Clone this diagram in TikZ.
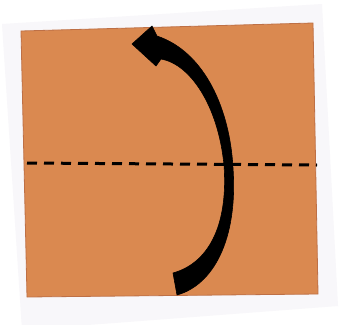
\documentclass[tikz,border=0pt]{standalone}
\definecolor{paper}{RGB}{248,247,250}
\definecolor{origami}{RGB}{218,137,80}
\definecolor{origamiedge}{RGB}{190,112,70}
\begin{document}
\begin{tikzpicture}[x=1pt,y=-1pt,
  sheet/.style={fill=paper,draw=none},
  square/.style={fill=origami,draw=origamiedge,line width=0.8pt},
  crease/.style={line width=3pt,dash pattern=on 10pt off 7pt},
  foldarrow/.style={fill=black,draw=black,line width=0.6pt,line join=round}]
\useasboundingbox (0,0) rectangle (347,324);
\fill[white] (0,0) rectangle (347,324);
\path[sheet] (2,24) -- (322,4) -- (338,306) -- (22,330) -- cycle;
\path[square] (21,31) -- (313,23) -- (318,294) -- (27,297) -- cycle;
\coordinate (creaseL) at (27,163);
\coordinate (creaseR) at (317,165);
\draw[crease] (creaseL) -- (creaseR);
\path[foldarrow] (157,36) -- (152,26) -- (132,44) -- (156,66) -- (161,59)
  .. controls (190,64) and (218,105) .. (224,165)
  .. controls (228,220) and (212,262) .. (173,273)
  -- (177,295)
  .. controls (213,285) and (238,240) .. (233,168)
  .. controls (230,110) and (205,52) .. cycle;
\end{tikzpicture}
\end{document}
